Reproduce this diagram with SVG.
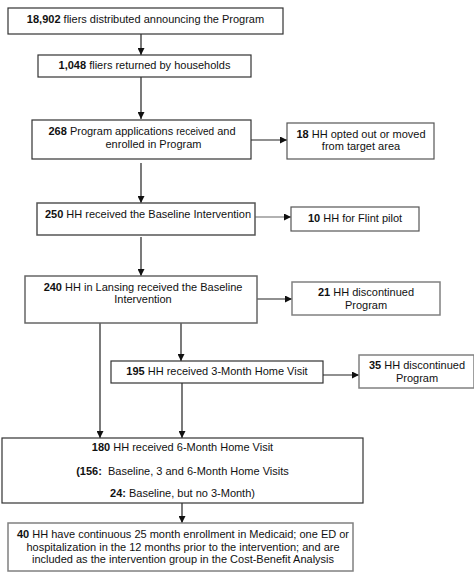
<svg xmlns="http://www.w3.org/2000/svg" width="474" height="585" viewBox="0 0 474 585">
<defs>
<marker id="ah" viewBox="0 0 10 10" refX="10" refY="5" markerWidth="7" markerHeight="7" markerUnits="userSpaceOnUse" orient="auto">
<path d="M0,0 L10,5 L0,10 z" fill="#111"/>
</marker>
<style>
rect{fill:#fff;stroke:#333;stroke-width:1.2}
rect.g{stroke:#808080;stroke-width:1.5}
text{font-family:"Liberation Sans",Arial,sans-serif;font-size:11px;fill:#111;text-anchor:middle}
.b{font-weight:bold}
#connectors line{stroke:#222;stroke-width:1.2;marker-end:url(#ah)}
</style>
</defs>
<rect x="0" y="0" width="474" height="585" style="fill:#fff;stroke:none"/>
<g id="connectors">
<line x1="141" y1="34" x2="141" y2="55"/>
<line x1="141" y1="77" x2="141" y2="119"/>
<line x1="251" y1="140" x2="287" y2="140"/>
<line x1="141" y1="163" x2="141" y2="203"/>
<line x1="255" y1="217" x2="291" y2="217" style="stroke:#666"/>
<line x1="141" y1="237" x2="141" y2="276"/>
<line x1="257" y1="299" x2="292" y2="299"/>
<line x1="100" y1="323" x2="100" y2="438"/>
<line x1="181" y1="323" x2="181" y2="361"/>
<line x1="323" y1="375" x2="359" y2="375"/>
<line x1="182" y1="383" x2="182" y2="438"/>
<line x1="182" y1="503" x2="182" y2="523"/>
</g>
<g id="n1">
<rect x="8" y="8" width="275" height="26"/>
<text x="145.5" y="23"><tspan class="b">18,902</tspan> fliers distributed announcing the Program</text>
</g>
<g id="n2">
<rect x="38" y="55" width="213" height="22"/>
<text x="144.5" y="69"><tspan class="b">1,048</tspan> fliers returned by households</text>
</g>
<g id="n3">
<rect x="32" y="120" width="219" height="39"/>
<text x="142" y="135"><tspan class="b">268</tspan> Program applications <tspan style="font-size:10px">received</tspan> and</text>
<text x="153.5" y="147.5">enrolled in Program</text>
</g>
<g id="n4">
<rect x="287" y="123" width="147" height="36" class="g" style="stroke:#555;stroke-width:1.2"/>
<text x="361" y="137.5"><tspan class="b">18</tspan> HH opted out or moved</text>
<text x="361" y="150">from target area</text>
</g>
<g id="n5">
<rect x="37" y="203" width="218" height="32" class="g" style="stroke:#555"/>
<text x="148" y="218"><tspan class="b">250</tspan> HH received the Baseline Intervention</text>
</g>
<g id="n6">
<rect x="291" y="207" width="128" height="24" style="stroke:#555"/>
<text x="355" y="221.5"><tspan class="b">10</tspan> HH for Flint pilot</text>
</g>
<g id="n7">
<rect x="25" y="276" width="232" height="47" class="g" style="stroke:#666"/>
<text x="143" y="290.5"><tspan class="b">240</tspan> HH in Lansing received the Baseline</text>
<text x="143" y="303">Intervention</text>
</g>
<g id="n8">
<rect x="292" y="282" width="148" height="33" class="g"/>
<text x="366" y="296"><tspan class="b">21</tspan> HH discontinued</text>
<text x="366" y="309">Program</text>
</g>
<g id="n9">
<rect x="111" y="361" width="212" height="22"/>
<text x="217" y="375"><tspan class="b">195</tspan> HH received 3-Month Home Visit</text>
</g>
<g id="n10">
<rect x="359" y="355" width="115" height="33" class="g"/>
<text x="417" y="369"><tspan class="b">35</tspan> HH discontinued</text>
<text x="417" y="382">Program</text>
</g>
<g id="n11">
<rect x="2" y="438" width="361" height="65"/>
<text x="182.5" y="451"><tspan class="b">180</tspan> HH received 6-Month Home Visit</text>
<text x="182.5" y="475" xml:space="preserve"><tspan class="b">(156:</tspan>  Baseline, 3 and 6-Month Home Visits</text>
<text x="182.5" y="497"><tspan class="b">24:</tspan> Baseline, but no 3-Month)</text>
</g>
<g id="n12">
<rect x="8" y="523" width="345" height="48" class="g"/>
<text x="183" y="538"><tspan class="b">40</tspan> HH have continuous 25 month enrollment in Medicaid; one ED or</text>
<text x="183" y="551">hospitalization in the 12 months prior to the intervention; and are</text>
<text x="183" y="563">included as the intervention group in the Cost-Benefit Analysis</text>
</g>
</svg>
